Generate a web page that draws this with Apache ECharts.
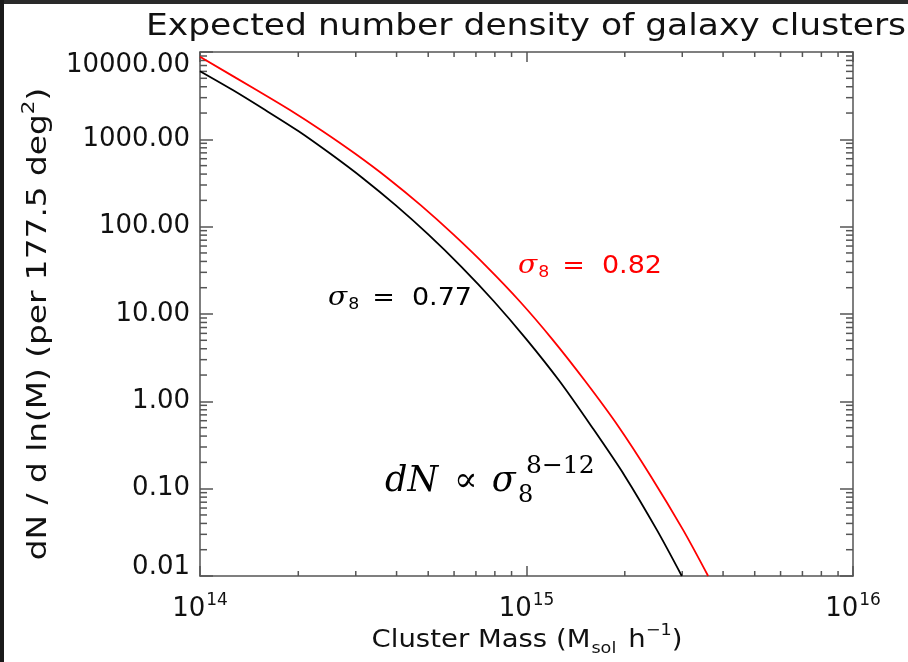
<!DOCTYPE html>
<html>
<head>
<meta charset="utf-8">
<script src="https://cdn.jsdelivr.net/npm/echarts@6/dist/echarts.min.js"></script>
<style>
  html, body { margin: 0; padding: 0; background: #fff; overflow: hidden; width: 908px; height: 662px; }
  #chart { position: absolute; left: 0; top: 0; width: 908px; height: 662px; }
</style>
</head>
<body>
<div id="chart"></div>
<script>
// Cluster mass (M_sol h^-1) and dN/dln(M) per 177.5 deg^2, sigma_8 = 0.77
const massLow = [1.00e14, 1.26e14, 1.58e14, 2.00e14, 2.51e14, 3.16e14, 3.98e14, 5.01e14,
                 6.31e14, 7.94e14, 1.00e15, 1.26e15, 1.58e15, 2.00e15, 2.51e15, 2.99e15];
const dnLow   = [6030, 3670, 2180, 1245, 682, 356, 175, 80.9,
                 34.9, 14.0, 5.13, 1.72, 0.519, 0.140, 0.0335, 0.01];

// sigma_8 = 0.82
const massHigh = [1.00e14, 1.49e14, 1.88e14, 2.37e14, 2.99e14, 3.77e14, 4.75e14, 5.98e14,
                  7.55e14, 9.53e14, 1.20e15, 1.51e15, 1.91e15, 2.40e15, 3.02e15, 3.60e15];
const dnHigh   = [8810, 3670, 2180, 1245, 682, 356, 175, 80.9,
                  34.9, 14.0, 5.13, 1.72, 0.519, 0.140, 0.0335, 0.01];

// Axis ranges and minor tick positions
const MASS_MIN = 1e14, MASS_MAX = 1e16;
const DN_MIN = 0.01, DN_MAX = 10000;
const massMinor = [2e14, 3e14, 4e14, 5e14, 6e14, 7e14, 8e14, 9e14,
                   2e15, 3e15, 4e15, 5e15, 6e15, 7e15, 8e15, 9e15];
const dnMinor = [0.02, 0.03, 0.04, 0.05, 0.06, 0.07, 0.08, 0.09,
                 0.2, 0.3, 0.4, 0.5, 0.6, 0.7, 0.8, 0.9,
                 2, 3, 4, 5, 6, 7, 8, 9,
                 20, 30, 40, 50, 60, 70, 80, 90,
                 200, 300, 400, 500, 600, 700, 800, 900,
                 2000, 3000, 4000, 5000, 6000, 7000, 8000, 9000];

const SANS = 'DejaVu Sans';
const SERIF = 'DejaVu Serif';
const INK = '#111';
const AXIS_COLOR = '#555';
const AXIS_W = 1.5;

const chart = echarts.init(document.getElementById('chart'), null, { renderer: 'canvas', width: 908, height: 662 });

function tickLine(x1, y1, x2, y2) {
  return { type: 'line', shape: { x1, y1, x2, y2 },
           style: { stroke: AXIS_COLOR, lineWidth: AXIS_W } };
}

// short ticks on the bottom and top edges
function renderMassMinor(params, api) {
  const b = api.coord([api.value(0), DN_MIN]);
  const t = api.coord([api.value(0), DN_MAX]);
  return { type: 'group', children: [
    tickLine(b[0], b[1], b[0], b[1] - 5),
    tickLine(t[0], t[1], t[0], t[1] + 5)
  ]};
}
// short ticks on the left and right edges
function renderDnMinor(params, api) {
  const l = api.coord([MASS_MIN, api.value(1)]);
  const r = api.coord([MASS_MAX, api.value(1)]);
  return { type: 'group', children: [
    tickLine(l[0], l[1], l[0] + 7, l[1]),
    tickLine(r[0], r[1], r[0] - 7, r[1])
  ]};
}

const axisLine = { show: true, lineStyle: { color: AXIS_COLOR, width: AXIS_W } };
const xTick = { show: true, inside: true, length: 10, lineStyle: { color: AXIS_COLOR, width: AXIS_W } };
const yTick = { show: true, inside: true, length: 13, lineStyle: { color: AXIS_COLOR, width: AXIS_W } };

const option = {
  animation: false,
  backgroundColor: '#fff',
  grid: { left: 200, top: 52, width: 653, height: 524, containLabel: false, outerBoundsMode: 'none' },
  xAxis: [
    {
      type: 'log', logBase: 10, min: MASS_MIN, max: MASS_MAX, interval: 1,
      position: 'bottom', axisLine, axisTick: xTick, splitLine: { show: false },
      axisLabel: {
        margin: 16,
        formatter: v => '{b|10}{s|' + Math.round(Math.log10(v)) + '}',
        rich: {
          b: { fontFamily: SANS, fontSize: 26, color: INK, lineHeight: 30, verticalAlign: 'bottom' },
          s: { fontFamily: SANS, fontSize: 17, color: INK, lineHeight: 30, verticalAlign: 'top', padding: [0, 0, 0, 1] }
        }
      }
    },
    {
      type: 'log', logBase: 10, min: MASS_MIN, max: MASS_MAX, interval: 1,
      position: 'top', axisLine, axisTick: xTick,
      axisLabel: { show: false }, splitLine: { show: false }
    }
  ],
  yAxis: [
    {
      type: 'log', logBase: 10, min: DN_MIN, max: DN_MAX, interval: 1,
      position: 'left', axisLine, axisTick: yTick, splitLine: { show: false },
      axisLabel: {
        margin: 10,
        // the lowest label sits with its digits resting on the bottom axis
        formatter: v => (v <= DN_MIN * 1.0001 ? '{lo|' + Number(v).toFixed(2) + '}' : Number(v).toFixed(2)),
        fontFamily: SANS, fontSize: 26, color: INK,
        verticalAlignMinLabel: 'bottom',
        verticalAlignMaxLabel: 'top',
        rich: {
          lo: { fontFamily: SANS, fontSize: 26, color: INK, lineHeight: 18 }
        }
      }
    },
    {
      type: 'log', logBase: 10, min: DN_MIN, max: DN_MAX, interval: 1,
      position: 'right', axisLine, axisTick: yTick,
      axisLabel: { show: false }, splitLine: { show: false }
    }
  ],
  series: [
    {
      name: 'σ8 = 0.77', type: 'line', xAxisIndex: 0, yAxisIndex: 0,
      data: massLow.map((m, i) => [m, dnLow[i]]),
      smooth: 0.3, symbol: 'none',
      lineStyle: { color: '#000', width: 1.8 }, z: 3
    },
    {
      name: 'σ8 = 0.82', type: 'line', xAxisIndex: 0, yAxisIndex: 0,
      data: massHigh.map((m, i) => [m, dnHigh[i]]),
      smooth: 0.3, symbol: 'none',
      lineStyle: { color: '#ff0000', width: 1.8 }, z: 3
    },
    {
      type: 'custom', xAxisIndex: 0, yAxisIndex: 0, silent: true, clip: false,
      renderItem: renderMassMinor, encode: { x: 0, y: 1 },
      data: massMinor.map(m => [m, DN_MIN]), z: 2
    },
    {
      type: 'custom', xAxisIndex: 0, yAxisIndex: 0, silent: true, clip: false,
      renderItem: renderDnMinor, encode: { x: 0, y: 1 },
      data: dnMinor.map(d => [MASS_MIN, d]), z: 2
    }
  ],
  graphic: [
    // dark frame strips along the top and left edges
    { type: 'rect', x: 0, y: 0, shape: { width: 908, height: 4 }, style: { fill: '#2a2a2a' }, z: 100 },
    { type: 'rect', x: 0, y: 0, shape: { width: 4, height: 662 }, style: { fill: '#1a1a1a' }, z: 100 },
    // chart title
    {
      type: 'text', x: 526, y: 27, scaleX: 1.15, z: 110,
      style: {
        text: 'Expected number density of galaxy clusters',
        font: '30px "' + SANS + '"', fill: INK,
        align: 'center', verticalAlign: 'middle'
      }
    },
    // x-axis title
    {
      type: 'text', x: 527, y: 640, scaleX: 1.1, z: 50,
      style: {
        text: '{t|Cluster Mass (M}{sub|sol}{t| h}{sup|−1}{t|)}',
        align: 'center', verticalAlign: 'middle',
        rich: {
          t: { fontFamily: SANS, fontSize: 25, fill: INK, lineHeight: 34, verticalAlign: 'middle' },
          sub: { fontFamily: SANS, fontSize: 16, fill: INK, lineHeight: 34, verticalAlign: 'bottom', padding: [0, 3, 0, 1] },
          sup: { fontFamily: SANS, fontSize: 16, fill: INK, lineHeight: 34, verticalAlign: 'top' }
        }
      }
    },
    // y-axis title
    {
      type: 'text', x: 39, y: 324, rotation: Math.PI / 2, scaleX: 1.26, z: 50,
      style: {
        text: '{t|dN / d ln(M) (per 177.5 deg}{sup|2}{t|)}',
        align: 'center', verticalAlign: 'middle',
        rich: {
          t: { fontFamily: SANS, fontSize: 26, fill: INK, lineHeight: 36, verticalAlign: 'middle' },
          sup: { fontFamily: SANS, fontSize: 17, fill: INK, lineHeight: 36, verticalAlign: 'top' }
        }
      }
    },
    // curve annotations
    {
      type: 'text', x: 328, y: 298, scaleX: 1.08, z: 50,
      style: {
        text: '{g|σ}{sub|8}{t| =  0.77}',
        align: 'left', verticalAlign: 'middle',
        rich: {
          g: { fontFamily: SERIF, fontStyle: 'italic', fontSize: 26, fill: '#000', lineHeight: 30, verticalAlign: 'middle' },
          sub: { fontFamily: SANS, fontSize: 16, fill: '#000', lineHeight: 30, verticalAlign: 'bottom', padding: [0, 4, 0, 1] },
          t: { fontFamily: SANS, fontSize: 25, fill: '#000', lineHeight: 30, verticalAlign: 'middle' }
        }
      }
    },
    {
      type: 'text', x: 518, y: 266, scaleX: 1.08, z: 50,
      style: {
        text: '{g|σ}{sub|8}{t| =  0.82}',
        align: 'left', verticalAlign: 'middle',
        rich: {
          g: { fontFamily: SERIF, fontStyle: 'italic', fontSize: 26, fill: '#ff0000', lineHeight: 30, verticalAlign: 'middle' },
          sub: { fontFamily: SANS, fontSize: 16, fill: '#ff0000', lineHeight: 30, verticalAlign: 'bottom', padding: [0, 4, 0, 1] },
          t: { fontFamily: SANS, fontSize: 25, fill: '#ff0000', lineHeight: 30, verticalAlign: 'middle' }
        }
      }
    },
    // scaling relation, with stacked sub/superscript
    {
      type: 'text', x: 385, y: 482, z: 50,
      style: {
        text: '{i|dN}{t|∝}{i|σ}',
        align: 'left', verticalAlign: 'middle',
        rich: {
          i: { fontFamily: SERIF, fontStyle: 'italic', fontSize: 35, fill: '#000' },
          t: { fontFamily: SERIF, fontSize: 35, fill: '#000', padding: [0, 14, 0, 16] }
        }
      }
    },
    {
      type: 'text', x: 518, y: 496, z: 50,
      style: { text: '8', font: '24px "' + SERIF + '"', fill: '#000', align: 'left', verticalAlign: 'middle' }
    },
    {
      type: 'text', x: 526, y: 466, z: 50,
      style: { text: '8−12', font: '25px "' + SERIF + '"', fill: '#000', align: 'left', verticalAlign: 'middle' }
    }
  ]
};

chart.setOption(option);
</script>
</body>
</html>
